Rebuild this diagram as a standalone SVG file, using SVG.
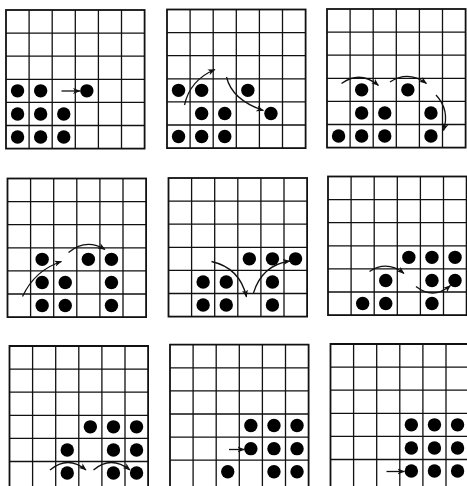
<svg xmlns="http://www.w3.org/2000/svg" width="467" height="486" viewBox="0 0 467 486">
<style>
.g{fill:none;stroke:#111;stroke-width:1.3}
.b{fill:none;stroke:#111;stroke-width:1.8}
.d{fill:#000}
.a{fill:none;stroke:#111;stroke-width:1.3;marker-end:url(#ah)}
</style>
<defs>
<marker id="ah" markerUnits="userSpaceOnUse" markerWidth="8" markerHeight="7" refX="7" refY="3.5" orient="auto">
<path d="M0,0.5 L7.5,3.5 L0,6.5 L2,3.5z" fill="#111"/>
</marker>
<g id="grid">
<path class="g" d="M23.1 0V138.6M46.2 0V138.6M69.3 0V138.6M92.4 0V138.6M115.5 0V138.6M0 23.1H138.6M0 46.2H138.6M0 69.3H138.6M0 92.4H138.6M0 115.5H138.6"/>
<rect class="b" x="0" y="0" width="138.6" height="138.6"/>
</g>
<g id="gridOpen">
<path class="g" d="M23.1 0V145M46.2 0V145M69.3 0V145M92.4 0V145M115.5 0V145M0 23.1H138.6M0 46.2H138.6M0 69.3H138.6M0 92.4H138.6M0 115.5H138.6"/>
<path class="b" d="M0 145V0H138.6V145"/>
</g>
</defs>
<rect width="467" height="486" fill="#fff"/>

<g id="grid1" transform="translate(6,10)">
<use href="#grid"/>
<circle class="d" cx="11.55" cy="80.85" r="6.7"/><circle class="d" cx="34.65" cy="80.85" r="6.7"/><circle class="d" cx="80.85" cy="80.85" r="6.7"/>
<circle class="d" cx="11.55" cy="103.95" r="6.7"/><circle class="d" cx="34.65" cy="103.95" r="6.7"/><circle class="d" cx="57.75" cy="103.95" r="6.7"/>
<circle class="d" cx="11.55" cy="127.05" r="6.7"/><circle class="d" cx="34.65" cy="127.05" r="6.7"/><circle class="d" cx="57.75" cy="127.05" r="6.7"/>
</g>

<g id="grid2" transform="translate(167,9.5)">
<use href="#grid"/>
<circle class="d" cx="11.55" cy="80.85" r="6.7"/><circle class="d" cx="34.65" cy="80.85" r="6.7"/><circle class="d" cx="80.85" cy="80.85" r="6.7"/>
<circle class="d" cx="34.65" cy="103.95" r="6.7"/><circle class="d" cx="57.75" cy="103.95" r="6.7"/><circle class="d" cx="103.95" cy="103.95" r="6.7"/>
<circle class="d" cx="11.55" cy="127.05" r="6.7"/><circle class="d" cx="34.65" cy="127.05" r="6.7"/><circle class="d" cx="57.75" cy="127.05" r="6.7"/>
</g>

<g id="grid3" transform="translate(327,9)">
<use href="#grid"/>
<circle class="d" cx="34.65" cy="80.85" r="6.7"/><circle class="d" cx="80.85" cy="80.85" r="6.7"/>
<circle class="d" cx="34.65" cy="103.95" r="6.7"/><circle class="d" cx="57.75" cy="103.95" r="6.7"/><circle class="d" cx="103.95" cy="103.95" r="6.7"/>
<circle class="d" cx="11.55" cy="127.05" r="6.7"/><circle class="d" cx="34.65" cy="127.05" r="6.7"/><circle class="d" cx="57.75" cy="127.05" r="6.7"/><circle class="d" cx="103.95" cy="127.05" r="6.7"/>
</g>

<g id="grid4" transform="translate(7.5,178.5)">
<use href="#grid"/>
<circle class="d" cx="34.65" cy="80.85" r="6.7"/><circle class="d" cx="80.85" cy="80.85" r="6.7"/><circle class="d" cx="103.95" cy="80.85" r="6.7"/>
<circle class="d" cx="34.65" cy="103.95" r="6.7"/><circle class="d" cx="57.75" cy="103.95" r="6.7"/><circle class="d" cx="103.95" cy="103.95" r="6.7"/>
<circle class="d" cx="34.65" cy="127.05" r="6.7"/><circle class="d" cx="57.75" cy="127.05" r="6.7"/><circle class="d" cx="103.95" cy="127.05" r="6.7"/>
</g>

<g id="grid5" transform="translate(168.5,178)">
<use href="#grid"/>
<circle class="d" cx="80.85" cy="80.85" r="6.7"/><circle class="d" cx="103.95" cy="80.85" r="6.7"/><circle class="d" cx="127.05" cy="80.85" r="6.7"/>
<circle class="d" cx="34.65" cy="103.95" r="6.7"/><circle class="d" cx="57.75" cy="103.95" r="6.7"/><circle class="d" cx="103.95" cy="103.95" r="6.7"/>
<circle class="d" cx="34.65" cy="127.05" r="6.7"/><circle class="d" cx="57.75" cy="127.05" r="6.7"/><circle class="d" cx="103.95" cy="127.05" r="6.7"/>
</g>

<g id="grid6" transform="translate(328,176.5)">
<use href="#grid"/>
<circle class="d" cx="80.85" cy="80.85" r="6.7"/><circle class="d" cx="103.95" cy="80.85" r="6.7"/><circle class="d" cx="127.05" cy="80.85" r="6.7"/>
<circle class="d" cx="57.75" cy="103.95" r="6.7"/><circle class="d" cx="103.95" cy="103.95" r="6.7"/><circle class="d" cx="127.05" cy="103.95" r="6.7"/>
<circle class="d" cx="34.65" cy="127.05" r="6.7"/><circle class="d" cx="57.75" cy="127.05" r="6.7"/><circle class="d" cx="103.95" cy="127.05" r="6.7"/>
</g>

<g id="grid7" transform="translate(9.5,346)">
<use href="#gridOpen"/>
<circle class="d" cx="80.85" cy="80.85" r="6.7"/><circle class="d" cx="103.95" cy="80.85" r="6.7"/><circle class="d" cx="127.05" cy="80.85" r="6.7"/>
<circle class="d" cx="57.75" cy="103.95" r="6.7"/><circle class="d" cx="103.95" cy="103.95" r="6.7"/><circle class="d" cx="127.05" cy="103.95" r="6.7"/>
<circle class="d" cx="57.75" cy="127.05" r="6.7"/><circle class="d" cx="103.95" cy="127.05" r="6.7"/><circle class="d" cx="127.05" cy="127.05" r="6.7"/>
</g>

<g id="grid8" transform="translate(170,344.7)">
<use href="#gridOpen"/>
<circle class="d" cx="80.85" cy="80.85" r="6.7"/><circle class="d" cx="103.95" cy="80.85" r="6.7"/><circle class="d" cx="127.05" cy="80.85" r="6.7"/>
<circle class="d" cx="80.85" cy="103.95" r="6.7"/><circle class="d" cx="103.95" cy="103.95" r="6.7"/><circle class="d" cx="127.05" cy="103.95" r="6.7"/>
<circle class="d" cx="57.75" cy="127.05" r="6.7"/><circle class="d" cx="103.95" cy="127.05" r="6.7"/><circle class="d" cx="127.05" cy="127.05" r="6.7"/>
</g>

<g id="grid9" transform="translate(330.5,344)">
<use href="#gridOpen"/>
<circle class="d" cx="80.85" cy="80.85" r="6.7"/><circle class="d" cx="103.95" cy="80.85" r="6.7"/><circle class="d" cx="127.05" cy="80.85" r="6.7"/>
<circle class="d" cx="80.85" cy="103.95" r="6.7"/><circle class="d" cx="103.95" cy="103.95" r="6.7"/><circle class="d" cx="127.05" cy="103.95" r="6.7"/>
<circle class="d" cx="80.85" cy="127.05" r="6.7"/><circle class="d" cx="103.95" cy="127.05" r="6.7"/><circle class="d" cx="127.05" cy="127.05" r="6.7"/>
</g>

<g id="connectors">
<path class="a" d="M61.5,91 L80,91"/>
<path class="a" d="M184.5,105 Q190,80 215,69.5"/>
<path class="a" d="M226.5,77 Q232,100 263.5,110.5"/>
<path class="a" d="M341.5,83.5 Q360,70 378.5,85.5"/>
<path class="a" d="M390,82 Q408,70 426.5,83.5"/>
<path class="a" d="M436,95 Q450,110 443.5,130.5"/>
<path class="a" d="M22.5,296.5 Q35,270 61.5,261.5"/>
<path class="a" d="M68.5,252.5 Q86,238 105,249.5"/>
<path class="a" d="M211.5,261.5 Q240,268 246.5,297"/>
<path class="a" d="M253.5,293 Q262,265 290,261"/>
<path class="a" d="M369.5,271.5 Q387,260 404,273.5"/>
<path class="a" d="M416,286.5 Q433,300 450.5,285.5"/>
<path class="a" d="M50,470 Q68,455 86,470"/>
<path class="a" d="M93.5,470 Q111,455 130,470"/>
<path class="a" d="M229,449.5 L244.5,449.5"/>
<path class="a" d="M386.5,471.5 L404.5,471.5"/>
</g>
</svg>
